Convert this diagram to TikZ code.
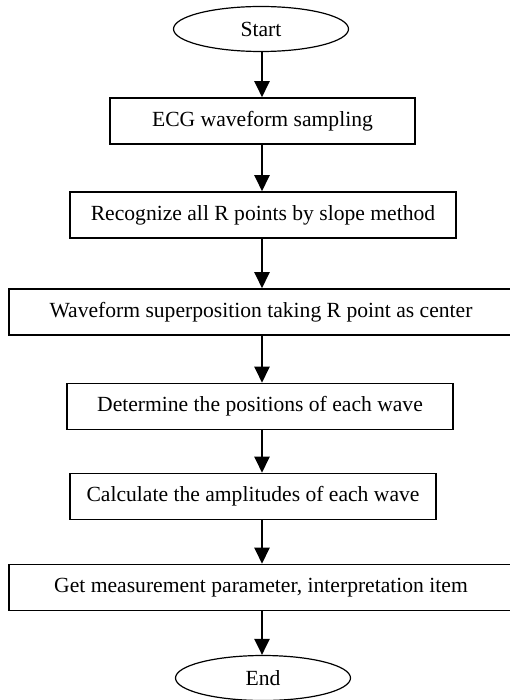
\documentclass[tikz,border=0pt]{standalone}
\usepackage{fontspec}
\setmainfont{Liberation Serif}
\usetikzlibrary{arrows.meta,shapes.geometric}

\tikzset{
  terminal/.style={draw,ellipse,line width=0.6pt,minimum width=87.5pt,minimum height=22.5pt,inner sep=0pt},
  stepbox/.style={draw,rectangle,line width=0.8pt,minimum height=23pt,inner sep=0pt},
  flow/.style={line width=1.2pt,-{Triangle[width=7.5pt,length=8pt]}}
}

\begin{document}
\begin{tikzpicture}[x=0.5pt,y=-0.5pt,font=\fontsize{10.8}{12}\selectfont]
  \useasboundingbox (0,0) rectangle (509,700);
  % start and end of the procedure
  \node[terminal] (start) at (261,29) {Start};
  \node[terminal] (end) at (263,678) {End};
  % processing steps
  \node[stepbox,minimum width=152.5pt] (sample) at (262.5,121) {ECG waveform sampling};
  \node[stepbox,minimum width=193pt] (rpoints) at (263,215) {Recognize all R points by slope method};
  \node[stepbox,minimum width=252pt] (superpose) at (261,312) {Waveform superposition taking R point as center};
  \node[stepbox,minimum width=193pt] (positions) at (260,406.5) {Determine the positions of each wave};
  \node[stepbox,minimum width=183pt] (amplitudes) at (253,496.5) {Calculate the amplitudes of each wave};
  \node[stepbox,minimum width=252pt] (params) at (261,587.5) {Get measurement parameter, interpretation item};
  % connectors, all on one vertical line
  \coordinate (axis) at (262,0);
  \foreach \a/\b in {start/sample,sample/rpoints,rpoints/superpose,superpose/positions,
                     positions/amplitudes,amplitudes/params,params/end}
    \draw[flow] (axis |- \a.south) -- (axis |- \b.north);
\end{tikzpicture}
\end{document}
